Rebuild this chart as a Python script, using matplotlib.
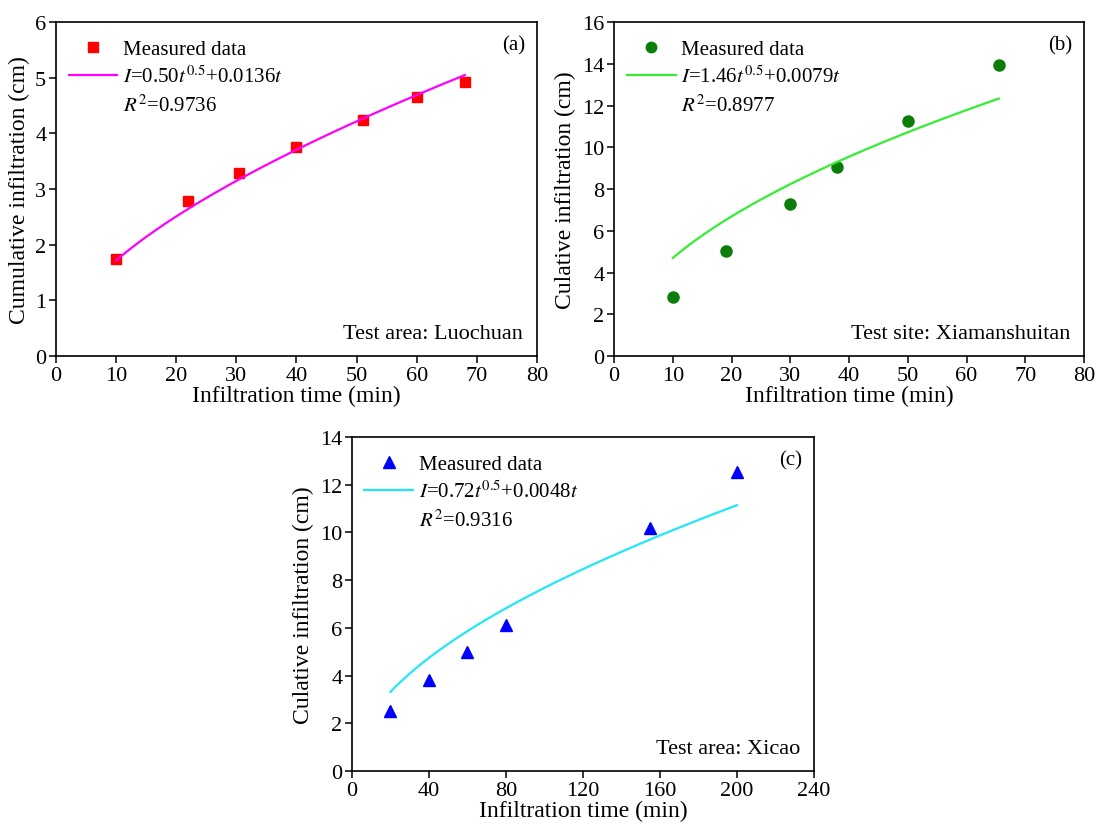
import numpy as np
import matplotlib
matplotlib.use("Agg")
import matplotlib.pyplot as plt
from matplotlib.lines import Line2D

plt.rcParams['font.family'] = ['Liberation Serif', 'DejaVu Serif']
plt.rcParams['mathtext.fontset'] = 'stix'

# panel (a) Luochuan
t_a = [10, 22, 30.5, 40, 51, 60, 68]
I_a = [1.75, 2.78, 3.28, 3.76, 4.24, 4.66, 4.92]
coef_a = (0.50, 0.0136)
r2_a = "0.9736"

# panel (b) Xiamanshuitan
t_b = [10, 19, 30, 38, 50, 65.5]
I_b = [2.85, 5.05, 7.3, 9.05, 11.25, 13.95]
coef_b = (1.46, 0.0079)
r2_b = "0.8977"

# panel (c) Xicao
t_c = [20, 40, 60, 80, 155, 200]
I_c = [2.5, 3.8, 5.0, 6.1, 10.2, 12.55]
coef_c = (0.72, 0.0048)
r2_c = "0.9316"


def draw_panel(ax, t, I, coef, r2, marker, mcolor, lcolor, msize,
               xmax, xstep, ymax, ystep, ylabel, tag, site):
    a, b = coef
    tt = np.linspace(min(t), max(t), 200)
    ax.plot(t, I, linestyle='none', marker=marker, color=mcolor, ms=msize)
    ax.plot(tt, a * tt ** 0.5 + b * tt, color=lcolor, lw=1.6)

    handles = [
        Line2D([], [], linestyle='none', marker=marker, color=mcolor, ms=msize - 0.5),
        Line2D([], [], color=lcolor, lw=1.6),
        Line2D([], [], linestyle='none'),
    ]
    labels = [
        "Measured data",
        r"$\mathit{I}$=%.2f$\mathit{t}^{0.5}$+%s$\mathit{t}$" % (a, ("%.4f" % b)),
        r"$\mathit{R}^{2}$=" + r2,
    ]
    ax.legend(handles, labels, loc='upper left', frameon=False, fontsize=15,
              handlelength=2.35, handletextpad=0.25, labelspacing=0.32,
              borderaxespad=0.2, bbox_to_anchor=(0.0, 0.985))

    ax.set_xlim(0, xmax)
    ax.set_ylim(0, ymax)
    ax.set_xticks(np.arange(0, xmax + 1, xstep))
    ax.set_yticks(np.arange(0, ymax + 0.1, ystep))
    ax.tick_params(direction='out', length=5, width=1.1, labelsize=16, pad=2)
    for s in ax.spines.values():
        s.set_linewidth(1.2)
    ax.set_xlabel("Infiltration time (min)", fontsize=17, labelpad=0)
    ax.set_ylabel(ylabel, fontsize=17, labelpad=4)
    ax.text(0.975, 0.96, tag, transform=ax.transAxes, ha='right', va='top', fontsize=15)
    ax.text(0.97, 0.04, site, transform=ax.transAxes, ha='right', va='bottom', fontsize=16)


fig = plt.figure(figsize=(11.09, 8.28), dpi=100)
ax_a = fig.add_axes([0.0505, 0.5688, 0.4337, 0.4034])
ax_b = fig.add_axes([0.5537, 0.5688, 0.4238, 0.4034])
ax_c = fig.add_axes([0.3174, 0.0676, 0.4166, 0.4034])

draw_panel(ax_a, t_a, I_a, coef_a, r2_a, 's', '#ff0000', '#ff00ff', 7.5,
           80, 10, 6, 1, "Cumulative infiltration (cm)", "(a)", "Test area: Luochuan")
draw_panel(ax_b, t_b, I_b, coef_b, r2_b, 'o', '#0a7d0a', '#33ee33', 8,
           80, 10, 16, 2, "Culative infiltration (cm)", "(b)", "Test site: Xiamanshuitan")
draw_panel(ax_c, t_c, I_c, coef_c, r2_c, '^', '#0000ff', '#22e8f5', 8.5,
           240, 40, 14, 2, "Culative infiltration (cm)", "(c)", "Test area: Xicao")

fig.savefig("out.png", dpi=100)
